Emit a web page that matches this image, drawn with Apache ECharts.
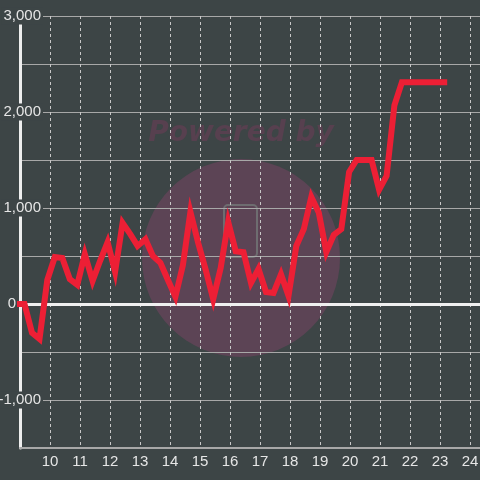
<!DOCTYPE html>
<html>
<head>
<meta charset="utf-8">
<script src="https://cdn.jsdelivr.net/npm/echarts@6/dist/echarts.min.js"></script>
<style>
html,body{margin:0;padding:0;background:#3d4546;}
#chart{width:480px;height:480px;}
</style>
</head>
<body>
<div id="chart"></div>
<script>
// Hours of the day (x) and running value (y)
var hours = [8.90, 9.15, 9.40, 9.65, 9.91, 10.16, 10.41, 10.66, 10.91, 11.16,
  11.42, 11.67, 11.92, 12.17, 12.42, 12.67, 12.92, 13.18, 13.43, 13.68,
  13.93, 14.18, 14.43, 14.68, 14.94, 15.19, 15.44, 15.69, 15.94, 16.19,
  16.45, 16.70, 16.95, 17.20, 17.45, 17.70, 17.95, 18.21, 18.46, 18.71,
  18.96, 19.21, 19.46, 19.71, 19.97, 20.22, 20.47, 20.72, 20.97, 21.22,
  21.48, 21.73, 21.98, 22.23, 22.48, 22.73, 22.98, 23.24];
var values = [0, 0, -300, -365, 250, 490, 480, 260, 200, 520,
  240, 450, 645, 335, 845, 730, 605, 675, 500, 430,
  250, 75, 405, 960, 635, 355, 50, 375, 855, 550,
  540, 220, 365, 125, 115, 310, 85, 605, 780, 1115,
  950, 540, 720, 780, 1375, 1500, 1500, 1500, 1190, 1335,
  2070, 2310, 2310, 2310, 2310, 2310, 2310, 2310];
var xTickLabels = [10, 11, 12, 13, 14, 15, 16, 17, 18, 19, 20, 21, 22, 23, 24];
var yTickLabels = [-1000, 1000, 2000, 3000];
var zeroLabel = '0';

var BG = '#3d4546';
var FONT = '"Liberation Sans", Arial, sans-serif';
var seriesData = hours.map(function (h, i) { return [h, values[i]]; });

var chart = echarts.init(document.getElementById('chart'), null, {renderer: 'canvas'});
chart.setOption({
  backgroundColor: BG,
  animation: false,
  graphic: [
    {type: 'circle', z: -10, shape: {cx: 241, cy: 258, r: 99}, style: {fill: '#5c4455'}},
    {type: 'text', z: -9, x: 241, y: 134, style: {text: 'Powered by', fill: '#57404f',
      font: 'italic bold 28px "DejaVu Sans"', textAlign: 'center', textVerticalAlign: 'middle'}},
    {type: 'rect', z: -9, shape: {x: 224, y: 205, width: 33, height: 52, r: 4},
      style: {fill: 'none', stroke: '#6e6d70', lineWidth: 2}}
  ],
  grid: {left: 20, right: 0, top: 16, bottom: 32, containLabel: false, outerBoundsMode: 'none'},
  xAxis: {
    type: 'value', min: 9, max: 9 + 460 / 30, interval: 1,
    axisLine: {show: true, onZero: false, lineStyle: {color: '#a8a8a8', width: 2}},
    axisTick: {show: false},
    axisLabel: {
      color: '#e6e6e6', fontSize: 15, fontFamily: FONT, margin: 6,
      showMaxLabel: false, showMinLabel: false,
      formatter: function (v) { return xTickLabels.indexOf(v) >= 0 ? String(v) : ''; }
    },
    splitLine: {show: true, lineStyle: {color: '#c8c8c8', width: 1, type: [3, 3]}}
  },
  yAxis: {
    type: 'value', min: -1500, max: 3000, interval: 500,
    axisLine: {show: true, lineStyle: {color: '#eeeeee', width: 3}},
    axisTick: {show: false},
    axisLabel: {
      inside: true, align: 'right', margin: 23,
      formatter: function (v) {
        if (yTickLabels.indexOf(v) < 0) return '';
        return '{b|' + v.toLocaleString('en-US') + '}';
      },
      rich: {b: {color: '#e6e6e6', fontSize: 15, fontFamily: FONT,
        backgroundColor: BG, padding: [1, 2, 1, 2]}}
    },
    splitLine: {show: true, lineStyle: {color: '#a8a8a8', width: 1}}
  },
  series: [
    {
      type: 'line', data: [], z: 2, silent: true,
      markLine: {silent: true, z: 2, symbol: ['none', 'none'],
        label: {show: true, position: 'start', distance: 4, formatter: zeroLabel,
          color: '#e6e6e6', fontSize: 15, fontFamily: FONT},
        lineStyle: {color: '#f0f0f0', width: 3, type: 'solid'},
        data: [{yAxis: 0}]}
    },
    {
      type: 'line', data: seriesData, z: 3, clip: false,
      showSymbol: false, symbol: 'none',
      lineStyle: {color: '#ed1f35', width: 6, join: 'miter'}
    }
  ]
});
</script>
</body>
</html>
